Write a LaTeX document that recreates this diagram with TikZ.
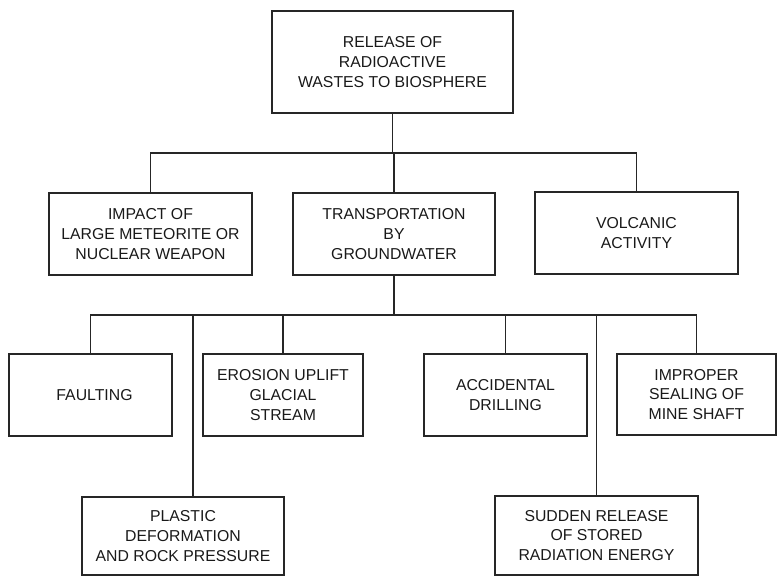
\documentclass[tikz,border=0pt]{standalone}
\usepackage{fontspec}
\setmainfont{Liberation Sans}
\begin{document}
\begin{tikzpicture}[x=1pt,y=-1pt,
  line/.style={draw=black!85,line width=1.2pt},
  box/.style={line, rectangle, inner sep=0pt, align=center,
    font=\fontsize{15.8}{19.7}\selectfont, text=black!90}]
\useasboundingbox (0,0) rectangle (777,577);

% boxes: centre, width, height
\node[box, minimum width=241, minimum height=102] (top)   at (392.5,62)  {RELEASE OF\\RADIOACTIVE\\WASTES TO BIOSPHERE};
\node[box, minimum width=203, minimum height=82]  (impact) at (150.5,234) {IMPACT OF\\LARGE METEORITE OR\\NUCLEAR WEAPON};
\node[box, minimum width=202, minimum height=82]  (trans)  at (394,234)   {TRANSPORTATION\\BY\\GROUNDWATER};
\node[box, minimum width=203, minimum height=82]  (volc)   at (636.5,233) {VOLCANIC\\ACTIVITY};
\node[box, minimum width=163, minimum height=82]  (fault)  at (90.5,395)  {\hspace*{8pt}FAULTING};
\node[box, minimum width=160, minimum height=82]  (eros)   at (283,395)   {EROSION UPLIFT\\GLACIAL\\STREAM};
\node[box, minimum width=163, minimum height=82]  (accid)  at (505.5,395) {ACCIDENTAL\\DRILLING};
\node[box, minimum width=159, minimum height=81]  (improp) at (696.5,394.5) {IMPROPER\\SEALING OF\\MINE SHAFT};
\node[box, minimum width=202, minimum height=78]  (plast)  at (183,536)   {PLASTIC\\DEFORMATION\\AND ROCK PRESSURE};
\node[box, minimum width=203, minimum height=79]  (sudden) at (596.5,535.5) {SUDDEN RELEASE\\OF STORED\\RADIATION ENERGY};

% bus levels and offset drop point
\coordinate (busA) at (0,153);
\coordinate (busB) at (0,315);
\coordinate (plastin) at (193,497);

% first level
\draw[line] (top.south) -- (top.south |- busA);
\draw[line] (impact.north) -- (impact.north |- busA) -- (volc.north |- busA) -- (volc.north);
\draw[line] (trans.north) -- (trans.north |- busA);

% second level
\draw[line] (trans.south) -- (trans.south |- busB);
\draw[line] (fault.north) -- (fault.north |- busB) -- (improp.north |- busB) -- (improp.north);
\draw[line] (plastin) -- (plastin |- busB);
\draw[line] (eros.north) -- (eros.north |- busB);
\draw[line] (accid.north) -- (accid.north |- busB);
\draw[line] (sudden.north) -- (sudden.north |- busB);
\end{tikzpicture}
\end{document}
